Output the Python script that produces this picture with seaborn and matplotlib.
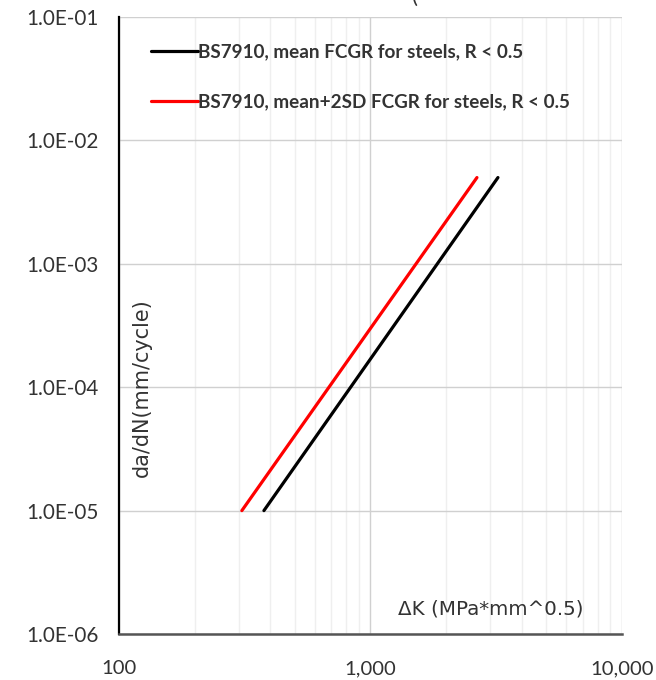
import numpy as np
import pandas as pd
import matplotlib
matplotlib.use("Agg")
import matplotlib.pyplot as plt
import seaborn as sns
from matplotlib.ticker import LogLocator, NullFormatter

series_names = ["BS7910, mean FCGR for steels, R < 0.5",
                "BS7910, mean+2SD FCGR for steels, R < 0.5"]
mean_dk = [377, 3214]
mean_dadn = [1.0e-5, 5.0e-3]
sd_dk = [308, 2652]
sd_dadn = [1.0e-5, 5.0e-3]
x_ticks = [100, 1000, 10000]
x_tick_labels = ["100", "1,000", "10,000"]
y_ticks = [1e-6, 1e-5, 1e-4, 1e-3, 1e-2, 1e-1]
y_tick_labels = ["1.0E-06", "1.0E-05", "1.0E-04", "1.0E-03", "1.0E-02", "1.0E-01"]

df = pd.DataFrame({
    "dK": mean_dk + sd_dk,
    "dadN": mean_dadn + sd_dadn,
    "series": [series_names[0]] * len(mean_dk) + [series_names[1]] * len(sd_dk),
})

sns.set_theme(style="white")
plt.rcParams["font.family"] = ["Lato", "DejaVu Sans"]

fig = plt.figure(figsize=(6.56, 6.80), dpi=100)
renderer = fig.canvas.get_renderer()


def fit_size(s, target_px, **kw):
    t = fig.text(0, 0, s, fontsize=10, **kw)
    w = t.get_window_extent(renderer).width
    t.remove()
    return 10.0 * target_px / w


ytick_fs = fit_size("1.0E-01", 72)
xtick_fs = fit_size("10,000", 63)
leg_fs = fit_size(series_names[0], 325, weight="bold")
xlab_fs = fit_size("\u0394K (MPa*mm^0.5)", 186, family=["DejaVu Sans"])
ylab_fs = fit_size("da/dN(mm/cycle)", 179, family=["DejaVu Sans"])

ax = fig.add_axes([0.1814, 0.0676, 0.948 - 0.1814, 0.975 - 0.0676])

sns.lineplot(data=df, x="dK", y="dadN", hue="series",
             palette=["#000000", "#ff0000"], linewidth=2.3, ax=ax, legend=True)
ax.set_xscale("log")
ax.set_yscale("log")
ax.set_xlim(100, 10000)
ax.set_ylim(1e-6, 1e-1)

ax.set_xticks(x_ticks)
ax.set_xticklabels(x_tick_labels)
ax.set_yticks(y_ticks)
ax.set_yticklabels(y_tick_labels)
ax.xaxis.set_minor_locator(LogLocator(base=10, subs=np.arange(2, 10)))
ax.xaxis.set_minor_formatter(NullFormatter())
ax.yaxis.set_minor_formatter(NullFormatter())
ax.tick_params(axis="both", which="both", length=0, colors="#333333")
ax.tick_params(axis="x", labelsize=xtick_fs, pad=19)
ax.tick_params(axis="y", labelsize=ytick_fs, pad=15)

ax.grid(True, which="major", axis="both", color="#d0d0d0", linewidth=1.0)
ax.grid(True, which="minor", axis="x", color="#efefef", linewidth=1.0)
ax.set_axisbelow(True)

for s in ["top", "right"]:
    ax.spines[s].set_visible(False)
ax.spines["left"].set_color("#000000")
ax.spines["left"].set_linewidth(1.6)
ax.spines["bottom"].set_color("#555555")
ax.spines["bottom"].set_linewidth(1.8)

ax.set_xlabel("")
ax.set_ylabel("")
ax.text(0.046, 0.399, "da/dN(mm/cycle)", transform=ax.transAxes, rotation=90,
        ha="center", va="center", fontsize=ylab_fs, color="#333333",
        family=["DejaVu Sans"])
ax.text(0.740, 0.041, "\u0394K (MPa*mm^0.5)", transform=ax.transAxes,
        ha="center", va="center", fontsize=xlab_fs, color="#333333",
        family=["DejaVu Sans"])

leg = ax.legend(loc="upper left", bbox_to_anchor=(0.03, 0.985), frameon=False,
                handlelength=47 / (leg_fs * 100 / 72), handletextpad=0.0,
                labelspacing=1.75, prop={"size": leg_fs, "weight": "bold"})
for t in leg.get_texts():
    t.set_color("#333333")

fig.text(0.633, 1.005, "(", ha="center", va="center", fontsize=16, color="#333333")

fig.savefig("out.png", dpi=100, facecolor="white")
